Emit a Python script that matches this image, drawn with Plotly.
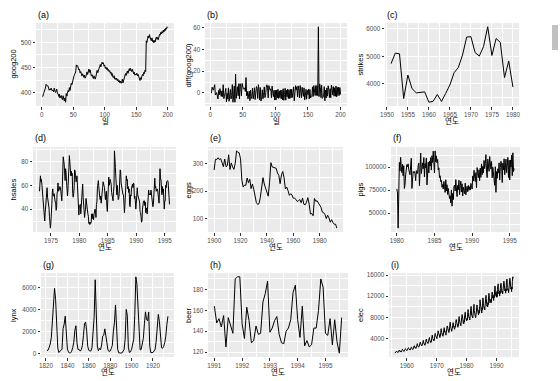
import numpy as np
import plotly.graph_objects as go

# ---------------- data ----------------
goog200 = [
    392.8, 392.5, 397.7, 401.2, 403.7, 408.9, 416.4, 414.4, 413.2, 413.5,
    410.5, 404.8, 407.0, 405.1, 409.0, 406.4, 403.1, 404.9, 401.3, 408.8,
    403.4, 400.2, 402.8, 406.9, 398.5, 398.1, 392.3, 396.9, 389.1, 391.2,
    394.3, 388.6, 386.0, 393.7, 385.0, 383.2, 389.5, 380.8, 398.1, 393.0,
    398.6, 404.2, 401.5, 409.9, 404.3, 412.7, 418.4, 415.6, 424.3, 428.0,
    431.6, 435.2, 439.8, 441.0, 455.1, 452.3, 453.7, 448.1, 444.9, 446.5,
    439.2, 441.8, 436.5, 433.0, 437.4, 431.8, 430.2, 434.9, 428.7, 431.5,
    437.3, 441.2, 436.0, 443.6, 446.9, 440.2, 445.1, 437.5, 432.8, 435.6,
    430.1, 427.9, 433.4, 429.0, 426.8, 431.5, 438.9, 444.2, 439.6, 446.3,
    449.7, 452.1, 455.8, 451.2, 457.4, 460.5, 457.0, 459.3, 452.6, 455.0,
    448.3, 450.9, 446.1, 449.4, 444.2, 446.0, 441.5, 443.8, 438.2, 440.7,
    434.1, 437.9, 431.0, 429.4, 433.6, 426.8, 429.2, 425.5, 428.9, 423.7,
    426.4, 421.0, 424.3, 419.6, 422.8, 418.5, 421.2, 426.7, 419.3, 423.0,
    429.6, 432.2, 437.8, 434.1, 440.5, 443.0, 438.2, 444.9, 447.6, 443.1,
    448.2, 445.0, 441.7, 446.3, 439.8, 437.2, 440.5, 434.6, 436.9, 435.3,
    438.7, 433.0, 436.1, 431.4, 427.2, 424.0, 429.5, 426.1, 432.8, 436.0,
    433.5, 440.2, 437.8, 444.6, 441.9, 503.0, 499.5, 507.8, 512.6, 508.2,
    515.3, 510.1, 506.4, 503.2, 508.9, 501.5, 504.0, 499.2, 503.7, 500.6,
    507.1, 510.4, 506.0, 509.8, 505.3, 512.5, 516.0, 514.2, 519.9, 516.8,
    521.5, 518.3, 524.6, 520.9, 526.0, 523.4, 528.5, 526.1, 531.0, 529.5,
]

strikes_start = 1951
strikes = [4737, 5117, 5091, 3468, 4320, 3825, 3673, 3694, 3708, 3333,
           3367, 3614, 3362, 3655, 3963, 4405, 4595, 5045, 5700, 5716,
           5138, 5010, 5353, 6074, 5031, 5648, 5506, 4230, 4827, 3885]

hsales_start = 1973
hsales = [
    55, 60, 68, 63, 65, 61, 54, 52, 46, 42, 37, 30,
    37, 44, 55, 53, 58, 50, 48, 45, 41, 34, 30, 24,
    29, 34, 44, 54, 57, 51, 51, 53, 46, 46, 46, 39,
    41, 53, 55, 62, 55, 56, 57, 59, 58, 55, 49, 47,
    57, 68, 84, 81, 78, 74, 64, 74, 71, 63, 55, 51,
    57, 63, 75, 85, 80, 77, 68, 72, 68, 70, 53, 50,
    53, 58, 73, 72, 68, 63, 64, 68, 60, 54, 41, 35,
    43, 44, 44, 36, 44, 50, 55, 61, 50, 46, 39, 33,
    37, 40, 49, 44, 45, 38, 36, 34, 28, 29, 27, 29,
    28, 29, 36, 32, 36, 34, 31, 36, 39, 40, 39, 33,
    44, 46, 57, 59, 64, 59, 51, 50, 48, 51, 45, 48,
    52, 58, 63, 61, 59, 58, 52, 48, 53, 55, 42, 38,
    48, 55, 67, 60, 65, 65, 63, 61, 54, 52, 51, 47,
    55, 59, 89, 84, 75, 66, 57, 52, 60, 54, 48, 49,
    53, 59, 73, 72, 62, 58, 55, 56, 52, 52, 43, 37,
    43, 55, 68, 68, 64, 65, 57, 59, 54, 57, 43, 42,
    52, 51, 58, 60, 61, 58, 62, 61, 49, 51, 47, 40,
    45, 50, 58, 52, 50, 50, 46, 46, 38, 37, 34, 29,
    30, 40, 46, 46, 47, 47, 43, 46, 37, 41, 39, 36,
    48, 55, 56, 53, 52, 53, 52, 56, 51, 48, 42, 42,
    44, 50, 60, 66, 58, 59, 55, 57, 57, 56, 53, 51,
    45, 58, 74, 65, 65, 55, 52, 59, 54, 57, 45, 40,
    47, 47, 60, 58, 63, 64, 64, 63, 55, 54, 44,
]

eggs_start = 1900
eggs = [
    276.79, 315.42, 314.87, 321.25, 314.54, 317.92, 303.39, 288.78, 316.64, 288.76,
    292.51, 332.05, 278.38, 302.37, 287.93, 279.01, 301.71, 346.24, 340.58, 339.11,
    317.33, 240.41, 215.46, 221.89, 220.93, 247.92, 231.18, 242.81, 209.23, 226.08,
    207.18, 187.33, 158.36, 151.73, 154.38, 177.01, 219.13, 249.08, 226.00, 212.81,
    193.67, 181.69, 230.94, 303.38, 287.89, 286.02, 282.73, 282.91, 265.65, 257.46,
    227.21, 258.90, 271.26, 247.99, 207.93, 214.89, 201.66, 184.96, 190.64, 186.18,
    174.15, 174.46, 170.08, 162.43, 165.65, 169.34, 157.95, 174.69, 152.33, 150.60,
    159.80, 176.36, 153.01, 117.09, 118.91, 110.73, 173.81, 163.28, 165.07, 158.07,
    150.56, 141.30, 123.91, 121.70, 115.29, 100.21, 112.55, 103.05, 87.50, 96.58,
    86.06, 79.92, 80.11, 65.80,
]

pigs_start = 1980
pigs = [
    76400, 71900, 33900, 96400, 105100, 95700, 110600, 100300, 94100, 103100, 90600, 101500,
    76900, 81300, 91600, 96200, 102700, 100300, 103500, 97000, 95200, 91700, 101300, 109600,
    76900, 85800, 95200, 93800, 95200, 92700, 85200, 96200, 92800, 93600, 101600, 104300,
    79900, 96200, 115300, 93000, 99800, 104600, 98200, 110400, 89500, 103800, 99200, 109900,
    80700, 97600, 105300, 93700, 106400, 101200, 110300, 96800, 112400, 105000, 117300, 104900,
    93600, 117600, 105800, 112200, 104600, 108300, 96900, 99200, 88700, 90600, 84200, 85600,
    78200, 81100, 76300, 84500, 79200, 72600, 86300, 74100, 80900, 70400, 76900, 73200,
    66000, 68900, 61200, 75300, 57700, 71600, 64800, 78900, 80600, 74200, 86500, 76300,
    68100, 80200, 75500, 85800, 70200, 79600, 84700, 73100, 81900, 68700, 78300, 74400,
    71300, 82600, 70100, 76500, 79300, 73200, 80100, 74900, 78700, 75100, 82300, 79800,
    76200, 90500, 84900, 96600, 87300, 84400, 94000, 77700, 99500, 92300, 88600, 97100,
    85300, 99000, 88900, 103500, 91800, 100800, 93700, 107200, 98400, 103900, 113500, 94600,
    88600, 108700, 100200, 95400, 111500, 102300, 97800, 106100, 88400, 99900, 92500, 91700,
    80300, 100400, 72700, 95200, 87900, 98200, 93500, 104600, 86000, 99700, 106300, 102100,
    83300, 104200, 97100, 109000, 91700, 99200, 108600, 94000, 101400, 110500, 88700, 107500,
    86100, 107600, 99900, 112900, 90700, 115500, 95100, 98500,
]

lynx_start = 1821
lynx = [
    269, 321, 585, 871, 1475, 2821, 3928, 5943, 4950, 2577,
    523, 98, 184, 279, 409, 2285, 2685, 3409, 1824, 409,
    151, 45, 68, 213, 546, 1033, 2129, 2536, 957, 361,
    377, 225, 360, 731, 1638, 2725, 2871, 2119, 684, 299,
    236, 245, 552, 1623, 3311, 6721, 4254, 687, 255, 473,
    358, 784, 1594, 1676, 2251, 1426, 756, 299, 201, 229,
    469, 736, 2042, 2811, 4431, 2511, 389, 73, 39, 49,
    59, 188, 377, 1292, 4031, 3495, 587, 105, 153, 387,
    758, 1307, 3465, 6991, 6313, 3794, 1836, 345, 382, 808,
    1388, 2713, 3800, 3091, 2985, 3790, 674, 81, 80, 108,
    229, 399, 1132, 2432, 3574, 2935, 1537, 529, 485, 662,
    1000, 1590, 2657, 3396,
]

beer_start = 1991
beer = [
    164, 148, 152, 144, 155, 125, 153, 146, 138, 190, 192, 192,
    147, 133, 163, 150, 129, 131, 145, 137, 138, 168, 176, 188,
    139, 143, 150, 154, 137, 129, 128, 140, 143, 151, 177, 184,
    151, 134, 164, 126, 131, 125, 127, 143, 143, 160, 190, 182,
    138, 136, 152, 127, 151, 130, 119, 153,
]

elec_start = 1956
elec = [
    1254, 1290, 1379, 1346, 1535, 1555, 1655, 1651, 1500, 1538, 1486, 1394,
    1409, 1387, 1543, 1502, 1693, 1616, 1841, 1787, 1631, 1649, 1586, 1500,
    1497, 1463, 1648, 1595, 1777, 1824, 1994, 1835, 1787, 1699, 1633, 1645,
    1597, 1577, 1709, 1756, 1936, 2052, 2105, 2016, 1914, 1925, 1824, 1765,
    1721, 1752, 1914, 1857, 2159, 2195, 2287, 2276, 2096, 2055, 2004, 1924,
    1851, 1839, 2019, 1937, 2270, 2251, 2382, 2364, 2129, 2110, 2072, 1980,
    1995, 1932, 2171, 2162, 2489, 2424, 2641, 2630, 2324, 2412, 2284, 2186,
    2184, 2144, 2379, 2383, 2717, 2774, 3051, 2891, 2613, 2600, 2493, 2410,
    2390, 2463, 2616, 2734, 2970, 3125, 3342, 3207, 2964, 2919, 2764, 2732,
    2622, 2698, 2950, 2895, 3200, 3408, 3679, 3473, 3154, 3107, 3052, 2918,
    2786, 2739, 3125, 3033, 3486, 3661, 3927, 3851, 3456, 3390, 3280, 3166,
    3080, 3069, 3340, 3310, 3798, 3883, 4191, 4213, 3766, 3628, 3520, 3322,
    3250, 3287, 3552, 3440, 4153, 4265, 4655, 4492, 4051, 3967, 3807, 3639,
    3647, 3560, 3929, 3858, 4485, 4697, 4977, 4675, 4596, 4491, 4127, 4144,
    4014, 3994, 4320, 4400, 5002, 5091, 5471, 5193, 4997, 4737, 4546, 4498,
    4350, 4206, 4743, 4582, 5191, 5457, 5891, 5618, 5158, 5030, 4800, 4654,
    4453, 4440, 4945, 4788, 5425, 5706, 6061, 5846, 5242, 5408, 5114, 5042,
    5008, 4657, 5359, 5193, 5891, 5980, 6390, 6366, 5756, 5640, 5429, 5398,
    5413, 5141, 5695, 5554, 6369, 6592, 7107, 6917, 6353, 6205, 5830, 5646,
    5379, 5489, 5824, 5907, 6482, 6795, 7028, 6776, 6274, 6362, 5940, 5958,
    5769, 5887, 6367, 6165, 6868, 7201, 7601, 7581, 7090, 6841, 6408, 6435,
    6176, 6138, 6717, 6470, 7312, 7763, 8171, 7788, 7311, 6679, 6704, 6724,
    6552, 6427, 7105, 6869, 7683, 8082, 8555, 8386, 7553, 7398, 7112, 6886,
    7077, 6820, 7426, 7143, 8261, 8240, 8977, 8991, 8026, 7911, 7510, 7381,
    7366, 7414, 7824, 7524, 8279, 8707, 9486, 8973, 8231, 8206, 7927, 7999,
    7834, 7521, 8284, 7999, 8940, 9381, 10078, 9796, 8471, 8572, 8150, 8168,
    8166, 7903, 8606, 8071, 9178, 9873, 10476, 9296, 8818, 8697, 8381, 8293,
    7942, 8001, 8744, 8397, 9115, 9773, 10358, 9849, 9083, 9143, 8800, 8741,
    8492, 8795, 9354, 8796, 10072, 10174, 11326, 10744, 9806, 9740, 9373, 9244,
    9407, 8827, 9880, 9364, 10580, 10899, 11687, 11280, 10208, 10212, 9725, 9721,
    9846, 9407, 10265, 9970, 10801, 11246, 12167, 11578, 10645, 10613, 10104, 10348,
    10263, 9973, 10803, 10409, 11458, 11845, 12559, 12070, 11221, 11338, 10761, 11012,
    10923, 10790, 11427, 10788, 11772, 12104, 12634, 12772, 11764, 11956, 11646, 11750,
    11485, 11198, 12265, 11704, 12419, 13259, 13945, 13839, 12387, 12546, 12038, 11977,
    12336, 11793, 12877, 11923, 13306, 13988, 14002, 14338, 12867, 12761, 12449, 12658,
    12746, 12029, 13032, 12515, 13464, 14049, 14447, 14400, 13085, 13116, 12708, 12767,
    12894, 12442, 13222, 12807, 14157, 14492, 14833, 14619, 13564, 13393, 13015, 13239,
    13052, 12580, 13411, 12969, 14231, 14788, 15244, 14882, 13632, 13598, 13113, 13302,
    13207, 12680, 13574, 13143, 14521, 14991, 15389, 15103, 13978, 13762, 13355, 13483,
    13417, 12868, 13767, 13374, 14745, 15120, 15664, 15353,
]

titles = ["(a)", "(b)", "(c)", "(d)", "(e)", "(f)", "(g)", "(h)", "(i)"]
ylabels = ["goog200", "diff(goog200)", "strikes", "hsales", "eggs", "pigs",
           "lynx", "beer", "elec"]
xlabels = ["일", "일", "연도", "연도", "연도", "연도", "연도", "연도", "연도"]

xticks = [
    [0, 50, 100, 150, 200],
    [0, 50, 100, 150, 200],
    [1950, 1955, 1960, 1965, 1970, 1975, 1980],
    [1975, 1980, 1985, 1990, 1995],
    [1900, 1920, 1940, 1960, 1980],
    [1980, 1985, 1990, 1995],
    [1820, 1840, 1860, 1880, 1900, 1920],
    [1991, 1992, 1993, 1994, 1995],
    [1960, 1970, 1980, 1990],
]
yticks = [
    [400, 450, 500],
    [0, 20, 40, 60],
    [4000, 5000, 6000],
    [40, 60, 80],
    [100, 200, 300],
    [50000, 75000, 100000],
    [0, 2000, 4000, 6000],
    [120, 140, 160, 180],
    [4000, 8000, 12000, 16000],
]

# ---------------- series with their time index ----------------
def annual(start, v):
    return start + np.arange(len(v)), np.array(v, dtype=float)

def monthly(start, v):
    return start + np.arange(len(v)) / 12.0, np.array(v, dtype=float)

g = np.array(goog200, dtype=float)
series = [
    (np.arange(1, len(g) + 1), g),
    (np.arange(2, len(g) + 1), np.diff(g)),
    annual(strikes_start, strikes),
    monthly(hsales_start, hsales),
    annual(eggs_start, eggs),
    monthly(pigs_start, pigs),
    annual(lynx_start, lynx),
    monthly(beer_start, beer),
    monthly(elec_start, elec),
]

# ---------------- layout (pixel rectangles of each panel) ----------------
W, H = 560, 381
rects = [  # x0, x1, y0(top), y1(bottom) in px
    (36, 174, 23, 106), (205, 347, 23, 106), (385, 519, 23, 106),
    (33, 176, 147, 232), (208, 343, 147, 232), (391, 520, 147, 232),
    (41, 174, 273, 357), (208, 348, 273, 357), (389, 519, 273, 357),
]
ytitle_x = [13, 188, 360]

FONT = "Liberation Sans, Arial, Noto Sans CJK KR, sans-serif"
fig = go.Figure()
layout = dict(
    width=W, height=H, margin=dict(l=0, r=0, t=0, b=0, autoexpand=False),
    paper_bgcolor="white", plot_bgcolor="#EBEBEB",
    showlegend=False, font=dict(family=FONT, color="black"),
)
annotations = []


def expand(vals):
    lo, hi = float(np.min(vals)), float(np.max(vals))
    pad = (hi - lo) * 0.05
    return [lo - pad, hi + pad]


def minors(major):
    step = major[1] - major[0]
    return [major[0] - step / 2] + [m + step / 2 for m in major]


for i, ((xv, yv), (x0, x1, y0, y1)) in enumerate(zip(series, rects)):
    k = "" if i == 0 else str(i + 1)
    fig.add_trace(go.Scatter(
        x=xv, y=yv, mode="lines", line=dict(color="black", width=1),
        xaxis="x" + k, yaxis="y" + k, hoverinfo="skip"))
    common = dict(
        showline=False, zeroline=False, ticks="outside", ticklen=2.5,
        tickwidth=0.8, tickcolor="#333333", showgrid=True, gridcolor="white",
        gridwidth=1, tickfont=dict(size=6.3, color="#4D4D4D", family=FONT),
        tickmode="array", automargin=False,
    )
    layout["xaxis" + k] = dict(
        common, domain=[x0 / W, x1 / W], anchor="y" + k,
        range=expand(xv), tickvals=xticks[i],
        ticktext=[str(v) for v in xticks[i]],
        minor=dict(tickvals=minors(xticks[i]), showgrid=True,
                   gridcolor="white", gridwidth=0.5, ticks=""),
    )
    layout["yaxis" + k] = dict(
        common, domain=[1 - y1 / H, 1 - y0 / H], anchor="x" + k,
        range=expand(yv), tickvals=yticks[i],
        ticktext=[str(v) for v in yticks[i]],
        minor=dict(tickvals=minors(yticks[i]), showgrid=True,
                   gridcolor="white", gridwidth=0.5, ticks=""),
    )
    # plot title
    annotations.append(dict(
        text=titles[i], x=x0 / W, y=1 - (y0 - 8.5) / H, xref="paper",
        yref="paper", xanchor="left", yanchor="middle", showarrow=False,
        font=dict(size=9, color="black")))
    # x axis title
    annotations.append(dict(
        text=xlabels[i], x=(x0 + x1) / 2 / W, y=1 - (y1 + 15.5) / H,
        xref="paper", yref="paper", xanchor="center", yanchor="middle",
        showarrow=False, font=dict(size=7.5, color="black")))
    # y axis title
    annotations.append(dict(
        text=ylabels[i], x=ytitle_x[i % 3] / W, y=1 - (y0 + y1) / 2 / H,
        xref="paper", yref="paper", xanchor="center", yanchor="middle",
        textangle=-90, showarrow=False, font=dict(size=7.5, color="black")))

layout["annotations"] = annotations
# browser scrollbar thumb seen at the right edge of the screenshot
layout["shapes"] = [dict(
    type="rect", xref="paper", yref="paper", x0=552 / W, x1=558 / W,
    y0=1 - 50 / H, y1=1 - 25 / H, fillcolor="#C1C1C1", line=dict(width=0),
    layer="above")]
fig.update_layout(**layout)
fig.write_html(
    "out.html",
    config={"displayModeBar": False},
    post_script="document.body.style.margin='0';"
                "document.body.style.overflow='hidden';",
)
